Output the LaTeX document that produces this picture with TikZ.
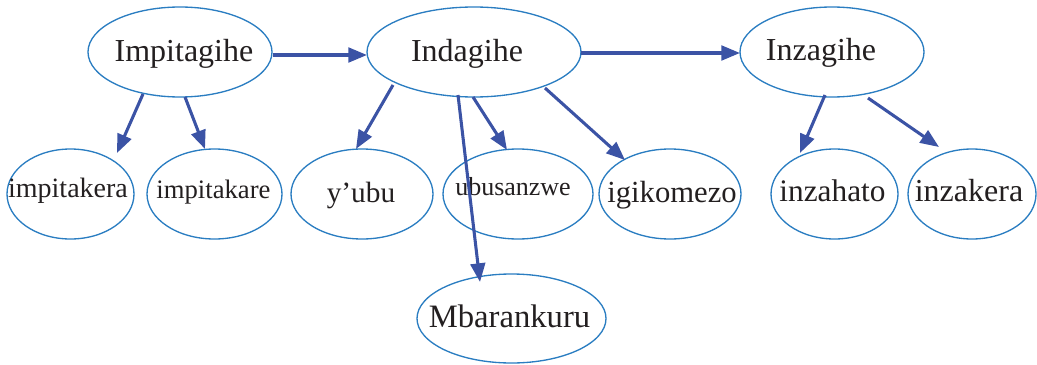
\documentclass[tikz,border=0pt]{standalone}
\usepackage{fontspec}
\setmainfont{Liberation Serif}
\usetikzlibrary{calc,arrows.meta,shapes.geometric}
\definecolor{ellblue}{HTML}{2A7DC1}
\definecolor{arrblue}{HTML}{3B53A5}
\definecolor{txtc}{HTML}{231F20}
\newcommand{\ntxt}[4]{\makebox[0pt][c]{\hspace*{#2}\raisebox{-#3}[0pt][0pt]{\fontsize{#1}{#1}\selectfont #4}}}
\begin{document}
\begin{tikzpicture}[x=0.75pt,y=-0.75pt,
  ell/.style={ellipse,draw=ellblue,line width=1pt,inner sep=0pt,outer sep=0pt,minimum height=67.5pt,text=txtc},
  arr/.style={draw=arrblue,line width=2.3pt,-{Triangle[length=14pt,width=11pt]}}]
\useasboundingbox (0,0) rectangle (1037,364);
% top row
\node[ell,minimum width=138pt] (imp) at (180,52) {\ntxt{24}{6pt}{6.75pt}{Impitagihe}};
\node[ell,minimum width=160.5pt] (ind) at (474,52) {\ntxt{24}{-10.5pt}{6.75pt}{Indagihe}};
\node[ell,minimum width=138pt] (inz) at (832,52) {\ntxt{24}{-16.5pt}{6pt}{Inzagihe}};
% bottom row
\node[ell,minimum width=95.25pt] (ipk) at (70.5,194) {\ntxt{21}{-3.75pt}{2.6pt}{impitakera}};
\node[ell,minimum width=101.25pt] (ipr) at (214.5,194) {\ntxt{20}{-1.5pt}{3pt}{impitakare}};
\node[ell,minimum width=106.5pt] (yub) at (362,194) {\ntxt{22}{-1.5pt}{6pt}{y’ubu}};
\node[ell,minimum width=112.5pt] (ubu) at (518,194) {\ntxt{19.5}{-7.5pt}{0.75pt}{ubusanzwe}};
\node[ell,minimum width=106.5pt] (igi) at (670,194) {\ntxt{23}{3pt}{6pt}{igikomezo}};
\node[ell,minimum width=95.25pt] (izh) at (834.5,194) {\ntxt{23.5}{-3pt}{5.25pt}{inzahato}};
\node[ell,minimum width=96pt] (izk) at (972,194) {\ntxt{24}{-4.5pt}{5.25pt}{inzakera}};
\node[ell,minimum width=141.75pt,minimum height=66.75pt] (mba) at (511.5,318.5) {\ntxt{24.5}{-3pt}{6.5pt}{Mbarankuru}};
% connectors
\draw[arr] ($(imp.center)+(93,3)$) -- ($(ind.center)+(-107,3)$);
\draw[arr] ($(ind.center)+(107,1)$) -- ($(inz.center)+(-92,1)$);
\draw[arr] ($(imp.center)+(-37,42)$) -- ($(ipk.center)+(46.5,-41)$);
\draw[arr] ($(imp.center)+(5,45)$) -- ($(ipr.center)+(-9.5,-45)$);
\draw[arr] ($(ind.center)+(-81,33)$) -- ($(yub.center)+(-6,-45)$);
\draw[arr] ($(ind.center)+(-1,45)$) -- ($(ubu.center)+(-11,-44)$);
\draw[arr] ($(ind.center)+(-16,43)$) -- ($(mba.center)+(-31.5,-36.5)$);
\draw[arr] ($(ind.center)+(71,36)$) -- ($(igi.center)+(-45,-34)$);
\draw[arr] ($(inz.center)+(-7,43)$) -- ($(izh.center)+(-34.5,-41)$);
\draw[arr] ($(inz.center)+(36,46)$) -- ($(izk.center)+(-33,-47)$);
\end{tikzpicture}
\end{document}
